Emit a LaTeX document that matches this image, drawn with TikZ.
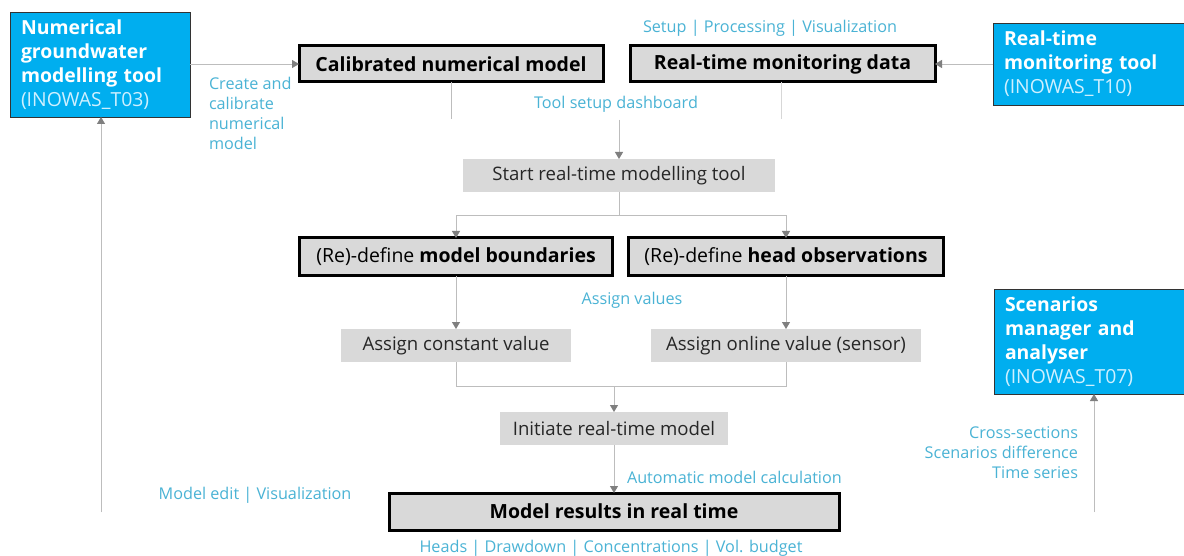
\documentclass[tikz,border=0pt]{standalone}
\usepackage{fontspec}
\setmainfont{Open Sans}
\usetikzlibrary{arrows.meta,calc}
\definecolor{tealblue}{HTML}{00AEEF}
\definecolor{lbl}{HTML}{4AB3D5}
\definecolor{boxgray}{HTML}{D9D9D9}
\definecolor{linegray}{HTML}{BDBDBD}
\definecolor{tipgray}{HTML}{7F7F7F}
\definecolor{subwhite}{HTML}{CFF0FF}
\tikzset{
  x=1pt, y=-1pt,
  every node/.style={inner sep=0pt, outer sep=0pt},
  mainbox/.style={draw=black, line width=3pt, fill=boxgray, font=\fontsize{19.5}{22}\selectfont, align=center},
  stepbox/.style={fill=boxgray, font=\fontsize{18.6}{22}\selectfont, text=black!85, align=center},
  toolbox/.style={draw=black!80, line width=0.8pt, fill=tealblue, text=white, align=left,
     font=\fontsize{19.4}{24}\selectfont, inner xsep=11pt, anchor=north west},
  lbltext/.style={text=lbl, font=\fontsize{16.2}{20}\selectfont},
  conn/.style={draw=linegray, line width=0.9pt},
  arr/.style={conn, -{Triangle[width=8pt,length=7pt,color=tipgray]}},
}
\begin{document}
\begin{tikzpicture}
\useasboundingbox (0,0) rectangle (1184,556);
\fill[white] (0,0) rectangle (1184,556);

% tool boxes
\node[toolbox, minimum width=180pt, minimum height=105pt, text width=158pt] (b1) at (10,12)
  {\textbf{Numerical}\\\textbf{groundwater}\\\textbf{modelling tool}\\\textcolor{subwhite}{(INOWAS\_T03)}};
\node[toolbox, minimum width=205pt, minimum height=82pt, text width=183pt] (b2) at (993,23)
  {\textbf{Real-time}\\\textbf{monitoring tool}\\\textcolor{subwhite}{(INOWAS\_T10)}};
\node[toolbox, minimum width=200pt, minimum height=105pt, text width=178pt] (b3) at (994,289)
  {\textbf{Scenarios}\\\textbf{manager and}\\\textbf{analyser}\\\textcolor{subwhite}{(INOWAS\_T07)}};

% main boxes
\node[mainbox, minimum width=304pt, minimum height=36pt] (cal) at (451,64) {\textbf{Calibrated numerical model}};
\node[mainbox, minimum width=305pt, minimum height=36pt] (rtd) at (782.5,64) {\textbf{Real-time monitoring data}};
\node[stepbox, minimum width=312pt, minimum height=33pt] (start) at (619,175.5) {Start real-time modelling tool};
\node[mainbox, minimum width=313pt, minimum height=38pt] (rb) at (456,257) {(Re)-define \textbf{model boundaries}};
\node[mainbox, minimum width=315pt, minimum height=38pt] (ho) at (786,257) {(Re)-define \textbf{head observations}};
\node[stepbox, minimum width=230pt, minimum height=33pt] (ac) at (456,345.5) {Assign constant value};
\node[stepbox, minimum width=270pt, minimum height=33pt] (ao) at (786,345.5) {Assign online value (sensor)};
\node[stepbox, minimum width=228pt, minimum height=33pt] (init) at (614,428.5) {Initiate real-time model};
\node[mainbox, minimum width=450pt, minimum height=37pt] (mr) at (614,511.5) {\textbf{Model results in real time}};

% labels
\node[lbltext] (l1) at (770,28) {Setup | Processing | Visualization};
\node[lbltext, anchor=north west, align=left] (l2) at (209,77) {Create and\\calibrate\\numerical\\model};
\node[lbltext] (l3) at (616,104) {Tool setup dashboard};
\node[lbltext] (l4) at (632,300) {Assign values};
\node[lbltext, anchor=west] (l5) at (627,477) {Automatic model calculation};
\node[lbltext] (l6) at (255,495) {Model edit | Visualization};
\node[lbltext] (l7) at (611,548) {Heads | Drawdown | Concentrations | Vol. budget};
\node[lbltext, anchor=north east, align=right] (l8) at (1078,427) {Cross-sections\\Scenarios difference\\Time series};

% connectors
\draw[arr] (b1.east |- cal.west) -- (cal.west);
\draw[arr] (b2.west |- rtd.east) -- (rtd.east);
\coordinate (calend) at (451,119);
\coordinate (rtdend) at (781,119);
\draw[conn] (cal.south) -- (calend);
\draw[conn, draw=linegray!60] (rtd.south -| rtdend) -- (rtdend);
\coordinate (tsd) at (619,120);
\draw[arr] (tsd) -- (start.north -| tsd);
\coordinate (split) at (619,215);
\draw[conn] (start.south -| split) -- (split);
\draw[arr] (split) -| (rb.north);
\draw[arr] (split) -| (ho.north);
\draw[arr] (rb) -- (ac);
\draw[arr] (ho) -- (ao);
\coordinate (merge) at (614,386);
\draw[conn] (ac.south) |- (merge);
\draw[conn] (ao.south) |- (merge);
\draw[arr] (merge) -- (init.north);
\draw[arr] (init) -- (mr);
\coordinate (lb) at (101,512);
\draw[arr] (lb) -- (lb |- b1.south);
\coordinate (rbt) at (1094,512);
\draw[arr] (rbt) -- (rbt |- b3.south);
\end{tikzpicture}
\end{document}
